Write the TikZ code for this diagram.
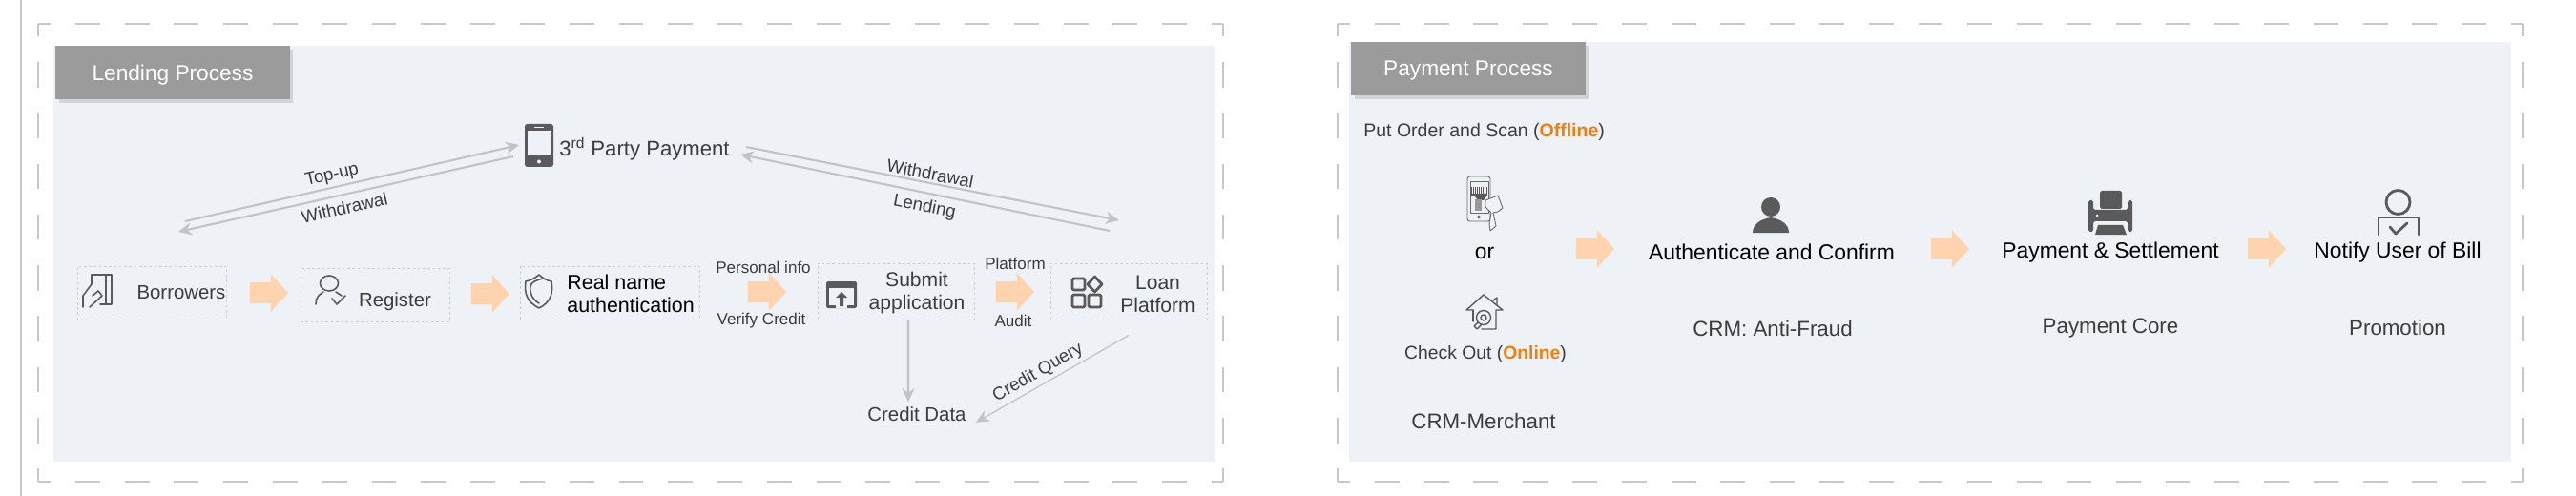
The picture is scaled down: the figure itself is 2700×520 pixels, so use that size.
\documentclass[tikz,border=0pt]{standalone}
\usepackage{fontspec}
\setmainfont{Liberation Sans}
\usepackage{xcolor}
\usetikzlibrary{arrows.meta,shapes.arrows,shapes.geometric,shadows}
\definecolor{panelbg}{HTML}{EEF1F5}
\definecolor{headbg}{HTML}{9B9B9B}
\definecolor{framegray}{HTML}{C8C8C8}
\definecolor{linegray}{HTML}{C0C4C6}
\definecolor{icongray}{HTML}{5A5A5C}
\definecolor{txtgray}{HTML}{3C3C3C}
\definecolor{blockorange}{HTML}{FDD3B0}
\definecolor{hotorange}{HTML}{EE7F14}

\begin{document}
\begin{tikzpicture}[
    x=0.02cm, y=-0.02cm,
    frameh/.style={draw=framegray, line width=1.1pt, dash pattern=on 0.518cm off 0.518cm, dash phase=0.259cm},
    framev/.style={draw=framegray, line width=1.1pt, dash pattern=on 0.533cm off 0.533cm, dash phase=0.267cm},
    panel/.style={fill=panelbg, draw=none},
    head/.style={fill=headbg, minimum width=4.92cm, minimum height=1.12cm, inner sep=0pt, text=white, text depth=0pt,
                 font=\fontsize{12.9}{16}\selectfont, drop shadow={shadow xshift=2pt, shadow yshift=-2pt, opacity=0.25}},
    lbl/.style={font=\fontsize{11.6}{13.7}\selectfont, text=txtgray, inner sep=0pt, align=center},
    lblbig/.style={lbl, font=\fontsize{12.7}{15}\selectfont},
    blk/.style={lbl, font=\fontsize{13}{15}\selectfont, text=black},
    sm/.style={lbl, font=\fontsize{9.7}{12}\selectfont},
    slant/.style={lbl, font=\fontsize{10.6}{12}\selectfont},
    stepbox/.style={draw=framegray!92, dash pattern=on 1.5pt off 1.5pt, line width=0.55pt, inner sep=0pt},
    blockarr/.style={shape=single arrow, fill=blockorange, inner sep=0pt, inner ysep=0.21cm, minimum height=0.8cm,
                     single arrow head extend=0.18cm, single arrow tip angle=95, xshift=-0.1cm},
    arr/.style={-{Stealth[length=2.8mm, width=2.6mm]}, line width=1.2pt, linegray},
    icon/.style={draw=icongray, line width=0.9pt, line cap=round, line join=round},
    iconthin/.style={draw=icongray!90, line width=0.5pt, line join=round},
    iconthick/.style={draw=icongray, line width=1.6pt, line join=round},
    iconfill/.style={fill=icongray, draw=none}
]
\useasboundingbox (0,0) rectangle (2700,520);
\draw[draw=framegray, line width=1.1pt] (22,0) -- (22,520);

% frames and panels
\foreach \fx/\px/\py in {40/56/48, 1402/1414/44} {
  \draw[frameh] (\fx,25) -- ++(1242,0);
  \draw[frameh] (\fx,505) -- ++(1242,0);
  \draw[framev] (\fx,25) -- ++(0,480);
  \draw[framev] (\fx+1242,25) -- ++(0,480);
  \fill[panel] (\px,\py) rectangle (\px+1218,484);
}
\node[head] (lendhead) at (181,76) {Lending Process};
\node[head] (payhead) at (1539,72) {Payment Process};

% lending process
\node[lbl, anchor=west, font=\fontsize{12.6}{14}\selectfont] (party) at (586,156) {3\textsuperscript{rd} Party Payment};
\node[stepbox, minimum width=3.12cm, minimum height=1.12cm] (borrowers) at (159,307) {};
\node[stepbox, minimum width=3.12cm, minimum height=1.12cm] (register) at (393,309) {};
\node[stepbox, minimum width=3.76cm, minimum height=1.12cm] (realname) at (639,307) {};
\node[stepbox, minimum width=3.28cm, minimum height=1.18cm] (submit) at (939,305.5) {};
\node[stepbox, minimum width=3.28cm, minimum height=1.18cm] (loan) at (1183,305.5) {};
\node[lbl] (borrowerstxt) at (190,307) {Borrowers};
\node[lbl] (registertxt) at (414,316) {Register};
\node[lbl, text=black, anchor=west, align=left, font=\fontsize{12.2}{13.7}\selectfont] (realnametxt) at (594,308) {Real name\\authentication};
\node[lbl, font=\fontsize{12}{13.7}\selectfont] (submittxt) at (961,307) {Submit\\application};
\node[lbl, font=\fontsize{12}{13.7}\selectfont] (loantxt) at (1213.5,308) {Loan\\Platform};
\node[lbl] (creditdata) at (961,434) {Credit Data};

\node[blockarr] (step1) at (282,307) {};
\node[blockarr] (step2) at (514,308) {};
\node[blockarr] (step3) at (804,306) {};
\node[blockarr] (step4) at (1064,306) {};
\node[sm] (personal) at (800,280) {Personal info};
\node[sm] (verify) at (798,336) {Verify Credit};
\node[sm] (platform) at (1064,276) {Platform};
\node[sm] (audit) at (1062,336) {Audit};

\coordinate (topupa) at (194,232);
\coordinate (topupb) at (544,152);
\coordinate (withdrawa) at (538,164);
\coordinate (withdrawb) at (187,243);
\coordinate (withdrawc) at (782,154);
\coordinate (withdrawd) at (1173,231);
\coordinate (lendinga) at (1163,242);
\coordinate (lendingb) at (776,162);
\draw[arr] (topupa) -- (topupb);
\draw[arr] (withdrawa) -- (withdrawb);
\draw[arr] (withdrawc) -- (withdrawd);
\draw[arr] (lendinga) -- (lendingb);
\draw[arr] ([xshift=0.26cm]submit.south) -- ([xshift=-0.18cm, yshift=0.1cm]creditdata.north);
\draw[arr, line width=0.7pt] ([yshift=-0.32cm]loan.south) -- ([xshift=0.2cm, yshift=-0.02cm]creditdata.east |- creditdata.south);
\node[slant, rotate=13] (topup) at (348,184) {Top-up};
\node[slant, rotate=13] (withdrawleft) at (361,218) {Withdrawal};
\node[slant, rotate=-11] (withdrawright) at (975,182) {Withdrawal};
\node[slant, rotate=-11] (lending) at (969,217) {Lending};
\node[slant, rotate=30] (query) at (1088,391) {Credit Query};

% lending icons
\fill[iconfill, rounded corners=1.5pt] (550,130) rectangle (580,175);
\fill[panelbg] (553,137) rectangle (578,163);
\fill[panelbg] (560,133) rectangle (570,134.5);
\fill[panelbg] (565,169.5) circle [radius=2];
\draw[icon] (96,298) -- (96,288) -- (117,288) -- (117,319) -- (105,319);
\draw[icon] (111,288) -- (111,319);
\draw[icon] (87,322) -- (87,310) -- (96,298);
\draw[icon] (94,322) -- (107,310) -- (103,305) -- (97,310);
\draw[icon] (345,297) circle [x radius=9.5, y radius=8];
\draw[icon] (331,319) .. controls (331,312) and (334,309) .. (339,306);
\draw[icon] (352,306) -- (358,310);
\draw[icon] (348,313) -- (353,319) -- (362,310);
\draw[icon] (565,288) .. controls (560,292) and (556,294) .. (551,295) .. controls (549,308) and (553,317) .. (565,323)
      .. controls (577,317) and (580,308) .. (578,295) .. controls (573,294) and (569,292) .. (565,288) -- cycle;
\draw[icon] (569,292) .. controls (561,294) and (557,296) .. (556,300) .. controls (555,308) and (558,314) .. (565,318);
\fill[iconfill, rounded corners=1.2pt] (866,295) rectangle (898,323);
\fill[panelbg] (869,302) rectangle (895,320);
\fill[panelbg] (876,318) rectangle (888,323);
\fill[iconfill] (882,306) -- (888,312) -- (884,312) -- (884,321) -- (880,321) -- (880,312) -- (876,312) -- cycle;
\draw[iconthick, rounded corners=0.8pt] (1124,292) rectangle (1137,304);
\draw[iconthick, rounded corners=0.8pt] (1124,309) rectangle (1137,322);
\draw[iconthick, rounded corners=0.8pt] (1141,309) rectangle (1154,322);
\draw[iconthick] (1147.5,290) -- (1155,298) -- (1147.5,306) -- (1140,298) -- cycle;

% payment process
\node[lbl, anchor=west, font=\fontsize{11.1}{13}\selectfont] (putorder) at (1429,138.5) {Put Order and Scan ({\color{hotorange}\bfseries Offline})};
\node[blk] (ortxt) at (1556,265) {or};
\node[lbl, font=\fontsize{11}{13}\selectfont] (checkout) at (1557,371.5) {Check Out ({\color{hotorange}\bfseries Online})};
\node[lblbig] (merchant) at (1555,442) {CRM-Merchant};
\node[blk] (authtxt) at (1857,264.5) {Authenticate and Confirm};
\node[lblbig] (fraud) at (1858,345) {CRM: Anti-Fraud};
\node[blk] (settletxt) at (2212,264.5) {Payment \& Settlement};
\node[lblbig] (core) at (2212,344.5) {Payment Core};
\node[blk] (notifytxt) at (2513,264.5) {Notify User of Bill};
\node[lblbig] (promo) at (2513,344) {Promotion};
\node[blockarr] (pay1) at (1672,261) {};
\node[blockarr] (pay2) at (2044,261) {};
\node[blockarr] (pay3) at (2376,261) {};

% payment icons
\draw[iconthin, rounded corners=1.5pt] (1538,185) rectangle (1562,232);
\draw[iconthin] (1541,190) rectangle (1560,223);
\foreach \bx in {1542,1544,...,1558} {
  \fill[iconfill] (\bx,196) rectangle (\bx+1.4,204);
}
\fill[iconfill] (1542,203) rectangle (1559,206);
\fill[iconfill] (1546,206) -- (1558,206) -- (1555,210) -- (1549,210) -- cycle;
\fill[gray!80] (1546,209) rectangle (1553,221);
\fill[panelbg] (1550,227.5) circle [radius=1.5];
\draw[iconthin] (1550,227.5) circle [radius=1.5];
\draw[iconthin, fill=panelbg] (1557,210) -- (1570,205) -- (1575,218) -- (1570,222) -- (1565,223) -- (1568,237) -- (1562,242)
      -- (1561,235) -- (1563,223) -- (1557,217) -- cycle;
\draw[icon, line width=0.8pt] (1544,325) -- (1537,325) -- (1555,309) -- (1575,325) -- (1568,325) -- (1568,345) -- (1553,345);
\draw[icon, line width=0.8pt] (1544,325) -- (1544,337);
\draw[icon, line width=0.8pt] (1565,315) -- (1569,312) -- (1569,320);
\draw[icon, line width=0.8pt] (1555,333) circle [radius=7.5];
\draw[icon, line width=0.8pt] (1555,333) circle [radius=3];
\draw[icon, line width=0.8pt] (1549,338) -- (1545,342) -- (1548,345) -- (1553,340);
\fill[iconfill] (1856,217) circle [radius=10];
\fill[iconfill] (1837,244) .. controls (1837,236) and (1844,230) .. (1856,228) .. controls (1868,230) and (1875,236) .. (1875,244) -- cycle;
\fill[iconfill, rounded corners=1pt] (2201,200) rectangle (2224,219);
\fill[iconfill, rounded corners=1pt] (2189,210) -- (2189,243) -- (2194,243) -- (2194,232) -- (2230,232) -- (2230,243) -- (2235,243) -- (2235,210) -- (2230,210) -- (2230,220) -- (2194,220) -- (2194,210) -- cycle;
\fill[iconfill] (2199,236) -- (2225,236) -- (2229,246) -- (2196,246) -- cycle;
\fill[panelbg] (2198,226) circle [radius=1.5];
\draw[iconthick] (2513.5,212) circle [radius=12.5];
\draw[iconthick, line cap=round] (2493,246) -- (2493,228) -- (2535,228) -- (2535,246);
\draw[iconthick, line cap=round] (2505,238) -- (2511,245) -- (2523,234);
\end{tikzpicture}
\end{document}
